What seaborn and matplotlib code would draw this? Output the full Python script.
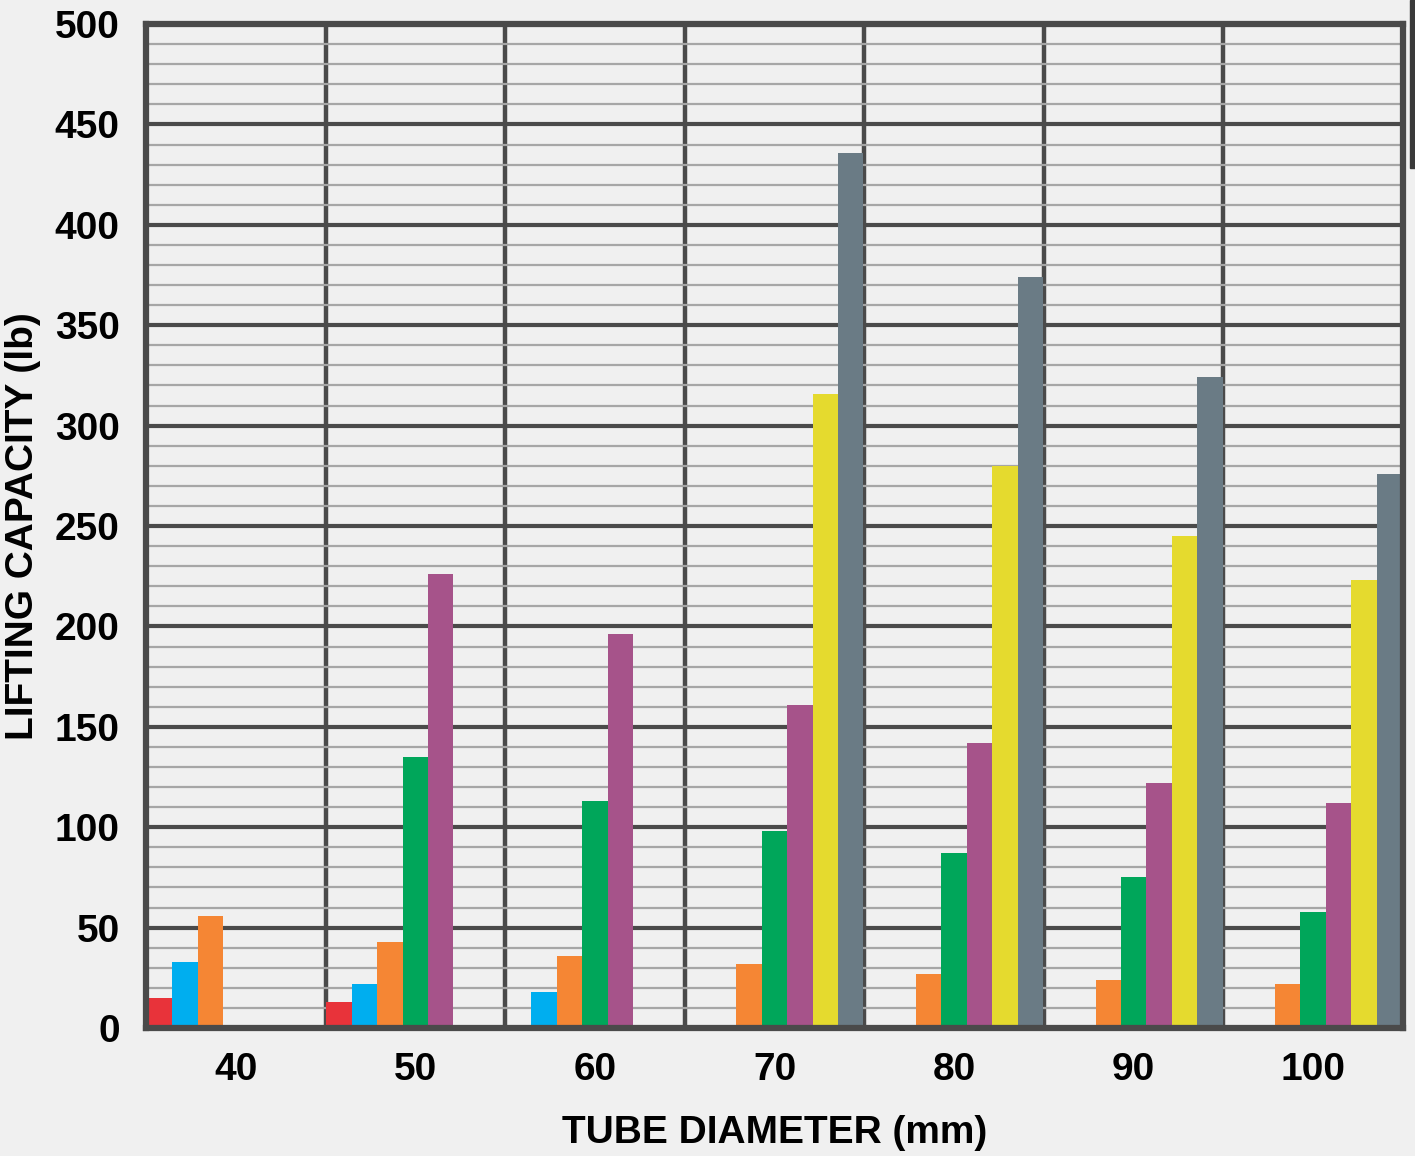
import numpy as np
import pandas as pd
import matplotlib.pyplot as plt
from matplotlib.ticker import MultipleLocator, FixedLocator
from matplotlib.patches import Rectangle
import seaborn as sns

# Values (NaN = no bar)
diameters = ['40', '50', '60', '70', '80', '90', '100']
series_names = ['S1', 'S2', 'S3', 'S4', 'S5', 'S6', 'S7']
s1 = [15, 13, np.nan, np.nan, np.nan, np.nan, np.nan]
s2 = [33, 22, 18, np.nan, np.nan, np.nan, np.nan]
s3 = [56, 43, 36, 32, 27, 24, 22]
s4 = [np.nan, 135, 113, 98, 87, 75, 58]
s5 = [np.nan, 226, 196, 161, 142, 122, 112]
s6 = [np.nan, np.nan, np.nan, 316, 280, 245, 223]
s7 = [np.nan, np.nan, np.nan, 436, 374, 324, 276]
colors = ['#e8333a', '#00aeef', '#f58634', '#00a65a', '#a6538a', '#e5da2e', '#6a7b85']

rows = []
for name, vals in zip(series_names, [s1, s2, s3, s4, s5, s6, s7]):
    for d, v in zip(diameters, vals):
        rows.append({'diameter': d, 'series': name, 'capacity': v})
df = pd.DataFrame(rows)

sns.set_style('white')
plt.rcParams['font.family'] = ['Liberation Sans', 'DejaVu Sans']
plt.rcParams['font.weight'] = 'bold'

bg = '#f0f0f0'
dark = '#4a4a4a'

fig = plt.figure(figsize=(14.15, 11.56), dpi=100, facecolor=bg)
ax = fig.add_axes([0.1032, 0.1107, 0.8883, 0.8685])
ax.set_facecolor(bg)

sns.barplot(data=df, x='diameter', y='capacity', hue='series',
            order=diameters, hue_order=series_names, palette=colors,
            width=0.99, gap=0, errorbar=None, legend=False,
            saturation=1, linewidth=0, ax=ax)

ax.set_xlim(-0.5, len(diameters) - 0.5)
ax.set_ylim(0, 500)
ax.yaxis.set_major_locator(MultipleLocator(50))
ax.yaxis.set_minor_locator(MultipleLocator(10))
ax.xaxis.set_minor_locator(FixedLocator(np.arange(-0.5, len(diameters), 1.0)))

ax.set_axisbelow(True)
ax.grid(which='minor', axis='y', color='#a6a6a6', linewidth=1.6)
ax.grid(which='major', axis='y', color=dark, linewidth=3)
ax.grid(which='minor', axis='x', color=dark, linewidth=3.2)
ax.grid(which='major', axis='x', visible=False)

for sp in ax.spines.values():
    sp.set_visible(True)
    sp.set_color(dark)
    sp.set_linewidth(4.5)

ax.tick_params(axis='y', which='major', length=14, width=3, color=dark,
               pad=5, labelsize=28, labelcolor='black')
ax.tick_params(axis='y', which='minor', length=0)
ax.tick_params(axis='x', which='both', length=0, pad=17, labelsize=28,
               labelcolor='black')
for lbl in ax.get_xticklabels() + ax.get_yticklabels():
    lbl.set_fontweight('bold')

ax.set_xlabel('TUBE DIAMETER (mm)', fontsize=28, fontweight='bold',
              color='black', labelpad=20)
ax.set_ylabel('LIFTING CAPACITY (lb)', fontsize=28, fontweight='bold',
              color='black', labelpad=10)

# dark strip at the right edge of the original screenshot
fig.patches.append(Rectangle((1410 / 1415, 1 - 168 / 1156), 5 / 1415, 168 / 1156,
                             transform=fig.transFigure, color='#3a3a3a', zorder=5))

fig.savefig('out.png', dpi=100, facecolor=bg)
